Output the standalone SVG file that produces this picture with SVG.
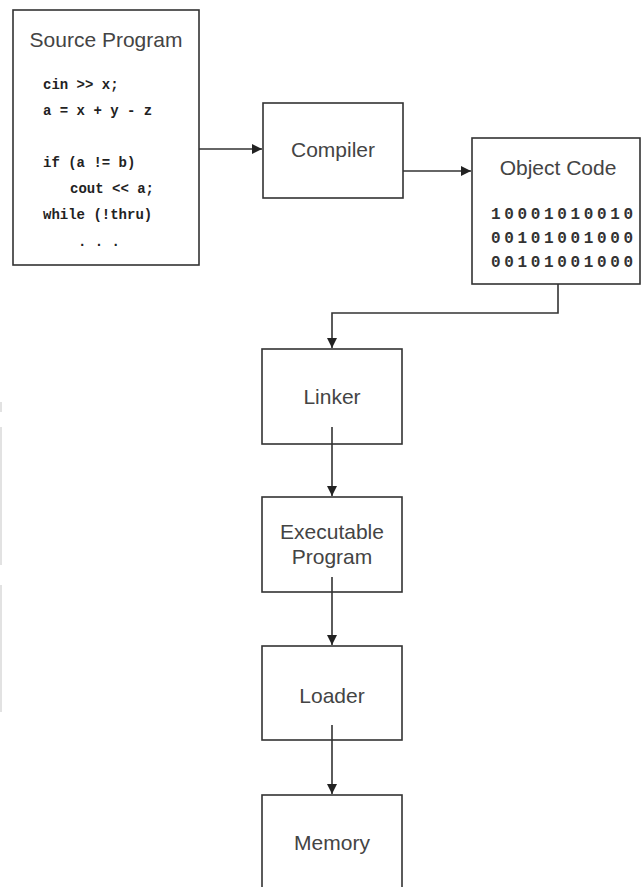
<svg xmlns="http://www.w3.org/2000/svg" width="643" height="887" viewBox="0 0 643 887">
<style>
.box{fill:#fff;stroke:#333;stroke-width:1.6}
.lbl{font-family:"Liberation Sans",Arial,sans-serif;font-size:21px;fill:#444;text-anchor:middle}
.code{font-family:"Liberation Mono","Courier New",monospace;font-size:14px;font-weight:bold;fill:#222}
.bin{font-family:"Liberation Mono","Courier New",monospace;font-size:16px;font-weight:bold;fill:#333}
.conn{fill:none;stroke:#333;stroke-width:1.6}
.faint{fill:#e2e2e2}
</style>
<defs>
<marker id="ah" viewBox="0 0 10 10" refX="10" refY="5" markerWidth="10" markerHeight="10" markerUnits="userSpaceOnUse" orient="auto">
<path d="M0,0 L10,5 L0,10 Z" fill="#222"/>
</marker>
</defs>
<rect width="643" height="887" fill="#fff"/>
<rect class="faint" x="0" y="402" width="2" height="10"/>
<rect class="faint" x="0" y="427" width="2" height="138"/>
<rect class="faint" x="0" y="585" width="2" height="127"/>
<g id="source">
<rect class="box" x="13" y="10" width="186" height="255"/>
<text class="lbl" x="106" y="47">Source Program</text>
<text class="code" x="43" y="89">cin &gt;&gt; x;</text>
<text class="code" x="43" y="115">a = x + y - z</text>
<text class="code" x="43" y="167">if (a != b)</text>
<text class="code" x="70" y="193">cout &lt;&lt; a;</text>
<text class="code" x="43" y="219">while (!thru)</text>
<text class="code" x="78" y="246">. . .</text>
</g>
<g id="compiler">
<rect class="box" x="263" y="103" width="140" height="95"/>
<text class="lbl" x="333" y="157">Compiler</text>
</g>
<g id="object">
<rect class="box" x="472" y="138" width="168" height="146"/>
<text class="lbl" x="558" y="175">Object Code</text>
<text class="bin" x="491" y="219" textLength="142" lengthAdjust="spacing">10001010010</text>
<text class="bin" x="491" y="243" textLength="142" lengthAdjust="spacing">00101001000</text>
<text class="bin" x="491" y="267" textLength="142" lengthAdjust="spacing">00101001000</text>
</g>
<g id="linker">
<rect class="box" x="262" y="349" width="140" height="95"/>
<text class="lbl" x="332" y="404">Linker</text>
</g>
<g id="executable">
<rect class="box" x="262" y="497" width="140" height="95"/>
<text class="lbl" x="332" y="539">Executable</text>
<text class="lbl" x="332" y="564">Program</text>
</g>
<g id="loader">
<rect class="box" x="262" y="646" width="140" height="94"/>
<text class="lbl" x="332" y="703">Loader</text>
</g>
<g id="memory">
<rect class="box" x="262" y="795" width="140" height="110"/>
<text class="lbl" x="332" y="850">Memory</text>
</g>
<g id="connectors">
<path class="conn" d="M199,149 H262" marker-end="url(#ah)"/>
<path class="conn" d="M403,171 H471" marker-end="url(#ah)"/>
<path class="conn" d="M558,284 V313 H332 V348" marker-end="url(#ah)"/>
<path class="conn" d="M332,427 V496" marker-end="url(#ah)"/>
<path class="conn" d="M332,577 V645" marker-end="url(#ah)"/>
<path class="conn" d="M332,725 V794" marker-end="url(#ah)"/>
</g>
</svg>
